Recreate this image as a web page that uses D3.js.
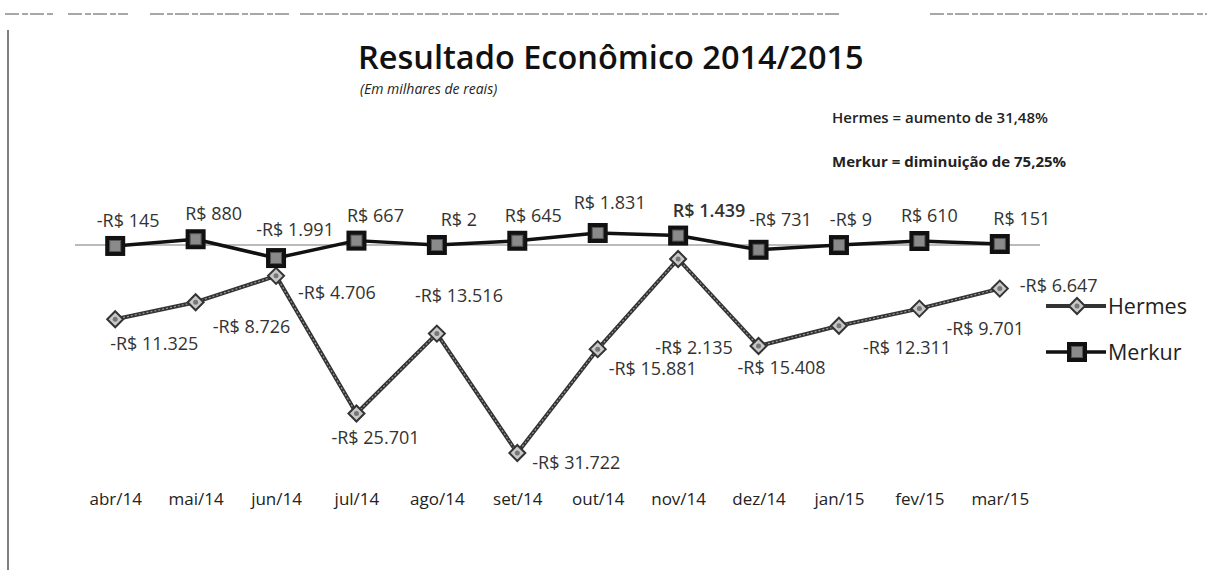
<!DOCTYPE html>
<html>
<head>
<meta charset="utf-8">
<script src="https://cdn.jsdelivr.net/npm/d3@7/dist/d3.min.js"></script>
<style>
  html, body { margin: 0; padding: 0; background: #fff; }
  svg { display: block; }
</style>
</head>
<body>
<svg id="chart" width="1207" height="570"></svg>
<script>
// Monthly economic result, in thousands of reais
const months = ["abr/14", "mai/14", "jun/14", "jul/14", "ago/14", "set/14",
                "out/14", "nov/14", "dez/14", "jan/15", "fev/15", "mar/15"];
const hermes = [-11325, -8726, -4706, -25701, -13516, -31722,
                -15881, -2135, -15408, -12311, -9701, -6647];
const merkur = [-145, 880, -1991, 667, 2, 645,
                1831, 1439, -731, -9, 610, 151];
const seriesNames = ["Hermes", "Merkur"];
const notes = ["Hermes = aumento de 31,48%", "Merkur = diminuição de 75,25%"];

// Label placement relative to each point (dx, dy)
const hermesLabelOffset = [[-5, 31], [17, 31], [22, 23], [-25, 30], [-22, -32], [15, 16],
                           [11, 26], [-23, 95], [-21, 28], [24, 28], [27, 26], [20, 3]];
const merkurLabelOffset = [[13, -19], [18, -19], [19, -22], [19, -19], [22, -19], [16, -19],
                           [12, -24], [31, -19], [22, -24], [12, -19], [10, -19], [22, -19]];

const fmt = v => (v < 0 ? "-" : "") + "R$ " + d3.format(",")(Math.abs(v)).replace(/,/g, ".");
const FONT = "Open Sans, sans-serif";

const svg = d3.select("#chart");
const W = 1207, H = 570;

// page frame
const frame = svg.append("g").attr("stroke", "#8a8a8a").attr("stroke-width", 1.5);
[[5, 55], [68, 128], [150, 290], [300, 840], [930, 1207]].forEach(s => {
  frame.append("line").attr("x1", s[0]).attr("x2", s[1]).attr("y1", 14).attr("y2", 14)
    .attr("stroke-dasharray", "14,3,6,2");
});
frame.append("line").attr("x1", 8).attr("x2", 8).attr("y1", 30).attr("y2", H)
  .attr("stroke", "#555");

const x = d3.scalePoint().domain(months).range([75, 1040]).padding(0.5);
const y = d3.scaleLinear().domain([-31722, 0]).range([453, 245]);

// title block
svg.append("text").attr("x", 358).attr("y", 69)
  .attr("font-family", FONT)
  .attr("font-weight", 600).attr("font-size", 32.5).attr("fill", "#111")
  .text("Resultado Econômico 2014/2015");
svg.append("text").attr("x", 360).attr("y", 94)
  .attr("font-family", FONT)
  .attr("font-style", "italic").attr("font-size", 14).attr("fill", "#222")
  .text("(Em milhares de reais)");

svg.selectAll("text.note").data(notes).join("text").attr("class", "note")
  .attr("x", 832).attr("y", (d, i) => 123 + i * 44)
  .attr("font-family", FONT)
  .attr("font-size", 15).attr("font-weight", (d, i) => i ? "bold" : 600)
  .attr("fill", "#222").text(d => d);

// zero axis line
svg.append("line").attr("x1", 75).attr("x2", 1040).attr("y1", y(0)).attr("y2", y(0))
  .attr("stroke", "#777").attr("stroke-width", 1);

// category labels
const xAxis = svg.append("g").attr("transform", "translate(0,493)")
  .call(d3.axisBottom(x).tickSize(0).tickPadding(0));
xAxis.select(".domain").remove();
xAxis.selectAll("text")
  .attr("font-family", FONT)
  .attr("font-size", 17).attr("fill", "#222");

const line = d3.line().x((d, i) => x(months[i])).y(d => y(d));

// Hermes: textured dark line with diamond markers
svg.append("path").datum(hermes).attr("d", line).attr("fill", "none")
  .attr("stroke", "#333").attr("stroke-width", 4).attr("stroke-linejoin", "round");
svg.append("path").datum(hermes).attr("d", line).attr("fill", "none")
  .attr("stroke", "#999").attr("stroke-width", 1.2).attr("stroke-dasharray", "2,2");

// Merkur: solid black line
svg.append("path").datum(merkur).attr("d", line).attr("fill", "none")
  .attr("stroke", "#111").attr("stroke-width", 3.5).attr("stroke-linejoin", "round");

function diamond(g, cx, cy) {
  g.append("path")
    .attr("d", `M${cx},${cy - 8}L${cx + 8},${cy}L${cx},${cy + 8}L${cx - 8},${cy}Z`)
    .attr("fill", "#c8c8c8").attr("stroke", "#333").attr("stroke-width", 2);
  g.append("circle").attr("cx", cx).attr("cy", cy).attr("r", 2.5)
    .attr("fill", "#777");
}
function square(g, cx, cy) {
  g.append("rect").attr("x", cx - 10).attr("y", cy - 10).attr("width", 20).attr("height", 20)
    .attr("fill", "#111");
  g.append("rect").attr("x", cx - 5.5).attr("y", cy - 5.5).attr("width", 11).attr("height", 11)
    .attr("fill", "#8a8a8a").attr("stroke", "#555").attr("stroke-width", 1);
}

const hm = svg.append("g");
hermes.forEach((v, i) => diamond(hm, x(months[i]), y(v)));
const mm = svg.append("g");
merkur.forEach((v, i) => square(mm, x(months[i]), y(v)));

// value labels
svg.selectAll("text.hl").data(hermes).join("text").attr("class", "hl")
  .attr("x", (d, i) => x(months[i]) + hermesLabelOffset[i][0])
  .attr("y", (d, i) => y(d) + hermesLabelOffset[i][1])
  .attr("font-family", FONT).attr("font-size", 18)
  .attr("fill", "#333").text(d => fmt(d));

svg.selectAll("text.ml").data(merkur).join("text").attr("class", "ml")
  .attr("x", (d, i) => x(months[i]) + merkurLabelOffset[i][0])
  .attr("y", (d, i) => y(d) + merkurLabelOffset[i][1])
  .attr("text-anchor", "middle")
  .attr("font-family", FONT).attr("font-size", 18)
  .attr("font-weight", (d, i) => i === 7 ? 600 : "normal")
  .attr("fill", "#333").text(d => fmt(d));

// legend
const legend = svg.append("g");
seriesNames.forEach((name, i) => {
  const ly = 306 + i * 46;
  legend.append("line").attr("x1", 1046).attr("x2", 1106).attr("y1", ly).attr("y2", ly)
    .attr("stroke", i ? "#111" : "#333").attr("stroke-width", i ? 3.5 : 4);
  if (i) square(legend, 1077, ly); else diamond(legend, 1077, ly);
  legend.append("text").attr("x", 1108).attr("y", ly + 7.5)
    .attr("font-family", FONT).attr("font-size", 21.5)
    .attr("fill", "#222").text(name);
});
</script>
</body>
</html>
